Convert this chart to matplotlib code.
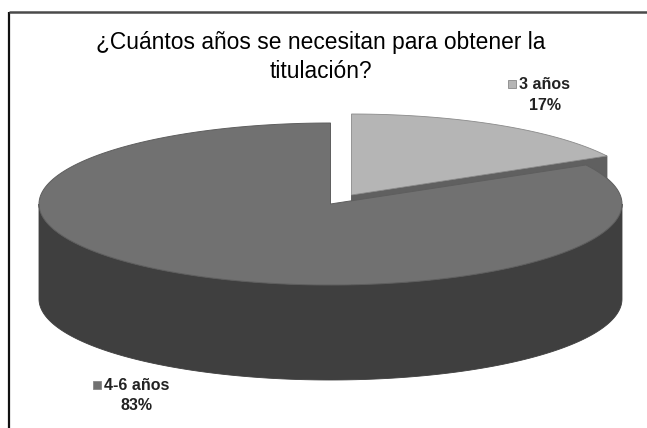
import numpy as np
import matplotlib
matplotlib.use("Agg")
import matplotlib.pyplot as plt
from matplotlib.patches import Polygon, Rectangle

# ---- data ----
title_lines = ["¿Cuántos años se necesitan para obtener la", "titulación?"]
labels = ["3 años", "4-6 años"]
values = [17, 83]

# ---- style ----
top_colors = ["#b5b5b5", "#717171"]
side_colors = ["#606060", "#3f3f3f"]
W, H = 647, 428
fig = plt.figure(figsize=(W / 100, H / 100), dpi=100)
ax = fig.add_axes([0, 0, 1, 1])
ax.set_xlim(0, W)
ax.set_ylim(H, 0)
ax.axis("off")

# frame
ax.plot([9, 9], [12, H + 5], color="#111111", lw=1.6, solid_capstyle="butt")
ax.plot([9, W + 5], [12, 12], color="#4a4a4a", lw=1.8, solid_capstyle="butt")

# pie geometry (screen/pixel coordinates)
cx, cy, a, b, depth = 330.5, 204.0, 291.5, 81.0, 95.0
explode = [(21.0, -9.0), (0.0, 0.0)]

total = float(sum(values))
angles = [90.0]
for v in values:
    angles.append(angles[-1] - 360.0 * v / total)


def pt(t, dx=0.0, dy=0.0, down=0.0):
    r = np.radians(t)
    return (cx + dx + a * np.cos(r), cy + dy - b * np.sin(r) + down)


def arc(t0, t1, dx=0.0, dy=0.0, down=0.0, n=200):
    ts = np.linspace(t0, t1, n)
    return [pt(t, dx, dy, down) for t in ts]


# slice 0 (exploded, behind)
t0, t1 = angles[0], angles[1]
dx, dy = explode[0]
c = (cx + dx, cy + dy)
rim = pt(t1, dx, dy)
radial_face = [c, rim, (rim[0], rim[1] + depth), (c[0], c[1] + depth)]
ax.add_patch(Polygon(radial_face, closed=True, facecolor=side_colors[0],
                     edgecolor="#555555", lw=0.6, zorder=2))
ax.add_patch(Polygon([c] + arc(t0, t1, dx, dy), closed=True,
                     facecolor=top_colors[0], edgecolor="#8a8a8a", lw=0.6, zorder=3))

# slice 1 (big slice, front)
t0, t1 = angles[1], angles[2]
dx, dy = explode[1]
c = (cx + dx, cy + dy)
wall_top = arc(0, -180, dx, dy)
wall_bot = arc(-180, 0, dx, dy, down=depth)
ax.add_patch(Polygon(wall_top + wall_bot, closed=True, facecolor=side_colors[1],
                     edgecolor=side_colors[1], lw=0.6, zorder=4))
ax.add_patch(Polygon([c] + arc(t0, t1, dx, dy), closed=True,
                     facecolor=top_colors[1], edgecolor="#5e5e5e", lw=0.7, zorder=5))

# title (two lines)
for line, ty in zip(title_lines, [42, 71]):
    ax.text(321, ty, line, ha="center", va="center", fontsize=16.4,
            family="Liberation Sans", color="#000000", zorder=10)

# data labels
lab_pos = [(512, 84), (97, 385)]
for i, (lx, ly) in enumerate(lab_pos):
    ax.add_patch(Rectangle((lx - 4, ly - 4), 8, 8, facecolor=top_colors[i],
                           edgecolor="#888888", lw=0.6, zorder=10))
    t = ax.text(lx + 7, ly, labels[i], ha="left", va="center", fontsize=11.5,
                fontweight="bold", family="Liberation Sans", color="#222222", zorder=10)
    fig.canvas.draw()
    bb = t.get_window_extent().transformed(ax.transData.inverted())
    xc = (bb.x0 + bb.x1) / 2
    ax.text(xc, ly + 21, f"{values[i]}%", ha="center", va="center", fontsize=11.5,
            fontweight="bold", family="Liberation Sans", color="#222222", zorder=10)

fig.savefig("out.png", dpi=100, facecolor="white")
